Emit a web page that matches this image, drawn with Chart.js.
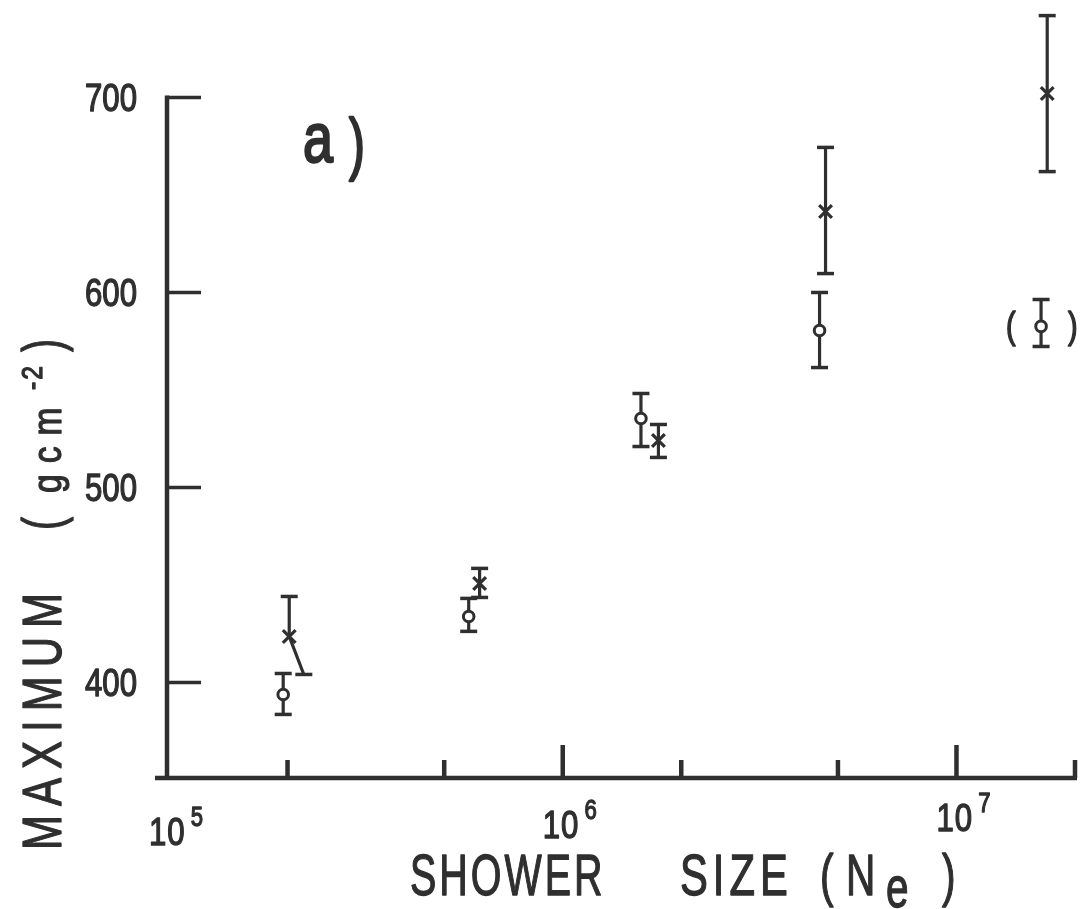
<!DOCTYPE html>
<html>
<head>
<meta charset="utf-8">
<script src="https://cdn.jsdelivr.net/npm/chart.js@4.4.0/dist/chart.umd.min.js"></script>
<style>
  html, body { margin: 0; padding: 0; background: #fff; }
  canvas { display: block; }
</style>
</head>
<body>
<canvas id="chart" width="1080" height="909"></canvas>
<script>
'use strict';

// depth of shower maximum (g cm^-2) against shower size N_e
var circleX    = [1.95e5, 5.77e5, 1.58e6, 4.49e6, 1.64e7];
var circleY    = [393.8, 433.8, 535.4, 580.5, 582.6];
var circleHigh = [404.6, 443.1, 548.2, 600.0, 596.4];
var circleLow  = [383.6, 426.2, 521.0, 561.5, 572.3];

var crossX     = [2.02e5, 6.15e5, 1.75e6, 4.65e6, 1.70e7];
var crossY     = [423.6, 450.8, 524.1, 641.5, 702.0];
var crossHigh  = [444.1, 458.5, 532.3, 674.4, 742.0];
var crossLow   = [404.1, 443.6, 515.4, 609.7, 662.0];
var crossLowX  = [2.20e5, 6.15e5, 1.75e6, 4.65e6, 1.70e7]; // first lower bar is slanted in the original

var yTicks = [400, 500, 600, 700];
var xMajorTicks = [1e5, 1e6, 1e7];
var xMajorExp = ['5', '6', '7'];
var xMinorTicks = [2e5, 5e5, 2e6, 5e6, 2e7];
var bracketed = [4]; // circle point put in brackets

var ink = '#2f2f2f';
var face = '"Liberation Sans", Arial, sans-serif';

// condensed text: regular face squeezed horizontally, optional letter gap
function txt(ctx, s, x, y, size, sx, gap, weight) {
   ctx.save();
   ctx.translate(x, y);
   ctx.scale(sx, 1);
   ctx.font = size + 'px ' + face;
   ctx.textBaseline = 'alphabetic';
   ctx.textAlign = 'left';
   ctx.lineJoin = 'round';
   ctx.lineWidth = weight === undefined ? 1.3 : weight;
   var pos = 0;
   for (var ch of s) {
      ctx.fillText(ch, pos, 0);
      if (ctx.lineWidth > 0) ctx.strokeText(ch, pos, 0);
      pos += ctx.measureText(ch).width + (gap || 0) / sx;
   }
   ctx.restore();
   return x + pos * sx - (gap || 0);
}

function txtRight(ctx, s, x, y, size, sx) {
   ctx.save();
   ctx.font = size + 'px ' + face;
   var w = ctx.measureText(s).width * sx;
   ctx.restore();
   txt(ctx, s, x - w, y, size, sx, 0);
}

function line(ctx, x1, y1, x2, y2, w) {
   ctx.lineWidth = w;
   ctx.beginPath();
   ctx.moveTo(x1, y1);
   ctx.lineTo(x2, y2);
   ctx.stroke();
}

var paperPlugin = {
   id: 'paper',
   beforeDatasetsDraw: function (chart) {
      var ctx = chart.ctx;
      var xs = chart.scales.x, ys = chart.scales.y;
      var ax = xs.getPixelForValue(1e5) - 2;
      var ay = ys.getPixelForValue(ys.min);
      ctx.save();
      ctx.strokeStyle = ink;
      ctx.fillStyle = ink;
      ctx.lineCap = 'butt';

      // axes
      line(ctx, ax, ys.getPixelForValue(700) - 2, ax, ay + 2, 4.5);
      line(ctx, ax - 12, ay, xs.getPixelForValue(2e7) + 2, ay, 4.5);

      // y ticks and labels
      yTicks.forEach(function (v) {
         var py = ys.getPixelForValue(v);
         line(ctx, ax, py, ax + 34, py, 3.5);
         txtRight(ctx, String(v), 137, py + 13.5, 38, 0.82);
      });

      // x ticks, pointing into the plot
      xMajorTicks.forEach(function (v, i) {
         var px = xs.getPixelForValue(v);
         if (i > 0) line(ctx, px, ay, px, ay - 33, 4.5);
         var base = 845 - (px - 169) * 0.018;
         var end = txt(ctx, '10', px - 20, base, 38, 0.82, 1);
         txt(ctx, xMajorExp[i], end + 6, base - 19, 27, 0.82, 0);
      });
      xMinorTicks.forEach(function (v) {
         var px = xs.getPixelForValue(v);
         line(ctx, px, ay, px, ay - 18, 4.5);
      });

      // axis titles
      txt(ctx, 'SHOWER', 410, 895, 58, 0.68, 3);
      txt(ctx, 'SIZE', 680, 895, 58, 0.72, 5);
      txt(ctx, '(', 820, 895, 58, 0.7, 0);
      txt(ctx, 'N', 846, 895, 58, 0.7, 0);
      txt(ctx, 'e', 886, 907, 58, 0.7, 0);
      txt(ctx, ')', 942, 895, 58, 0.7, 0);

      ctx.save();
      ctx.translate(61, 0);
      ctx.rotate(-Math.PI / 2);
      txt(ctx, 'MAXIMUM', -850, 0, 56, 0.75, 9);
      txt(ctx, '(', -530, 0, 56, 0.7, 0);
      txt(ctx, 'gcm', -493, 0, 41, 0.82, 11);
      txt(ctx, '-2', -390, -19, 30, 0.82, 2);
      txt(ctx, ')', -352, 0, 56, 0.7, 0);
      ctx.restore();

      // panel tag
      txt(ctx, 'a', 303, 162, 70, 0.77, 0, 2.5);
      txt(ctx, ')', 349, 167, 68, 0.7, 0, 2.5);

      // error bars
      var cap = 8.5;
      function bar(xv, yv, hi, lo, loX) {
         var px = xs.getPixelForValue(xv);
         var py = ys.getPixelForValue(yv);
         var ph = ys.getPixelForValue(hi);
         var pl = ys.getPixelForValue(lo);
         var plx = xs.getPixelForValue(loX);
         line(ctx, px, ph, px, py, 3.2);
         line(ctx, px, py, plx, pl, 3.2);
         line(ctx, px - cap, ph, px + cap, ph, 3.5);
         line(ctx, plx - cap, pl, plx + cap, pl, 3.5);
      }
      circleX.forEach(function (v, i) {
         bar(v, circleY[i], circleHigh[i], circleLow[i], v);
      });
      crossX.forEach(function (v, i) {
         bar(v, crossY[i], crossHigh[i], crossLow[i], crossLowX[i]);
      });

      // brackets round the doubtful point
      bracketed.forEach(function (i) {
         var px = xs.getPixelForValue(circleX[i]);
         var py = ys.getPixelForValue(circleY[i]);
         txt(ctx, '(', px - 35, py + 12, 36, 0.8, 0, 1.5);
         txt(ctx, ')', px + 27, py + 12, 36, 0.8, 0, 1.5);
      });
      ctx.restore();
   }
};

var ctx = document.getElementById('chart').getContext('2d');
var chart = new Chart(ctx, {
   type: 'scatter',
   data: {
      datasets: [{
         label: 'circles',
         data: circleX.map(function (x, i) { return { x: x, y: circleY[i] }; }),
         pointStyle: 'circle',
         radius: 5.3,
         borderWidth: 3,
         borderColor: ink,
         backgroundColor: '#fff'
      }, {
         label: 'crosses',
         data: crossX.map(function (x, i) { return { x: x, y: crossY[i] }; }),
         pointStyle: 'crossRot',
         radius: 9,
         borderWidth: 3.2,
         borderColor: ink,
         backgroundColor: ink
      }]
   },
   options: {
      responsive: false,
      animation: false,
      devicePixelRatio: 1,
      layout: { autoPadding: false, padding: { left: 169, right: 5, top: 0, bottom: 131 } },
      plugins: {
         legend: { display: false },
         tooltip: { enabled: false }
      },
      scales: {
         x: { type: 'logarithmic', min: 1e5, max: 2e7, display: false },
         y: { type: 'linear', min: 351, max: 750, display: false }
      }
   },
   plugins: [paperPlugin]
});
</script>
</body>
</html>
